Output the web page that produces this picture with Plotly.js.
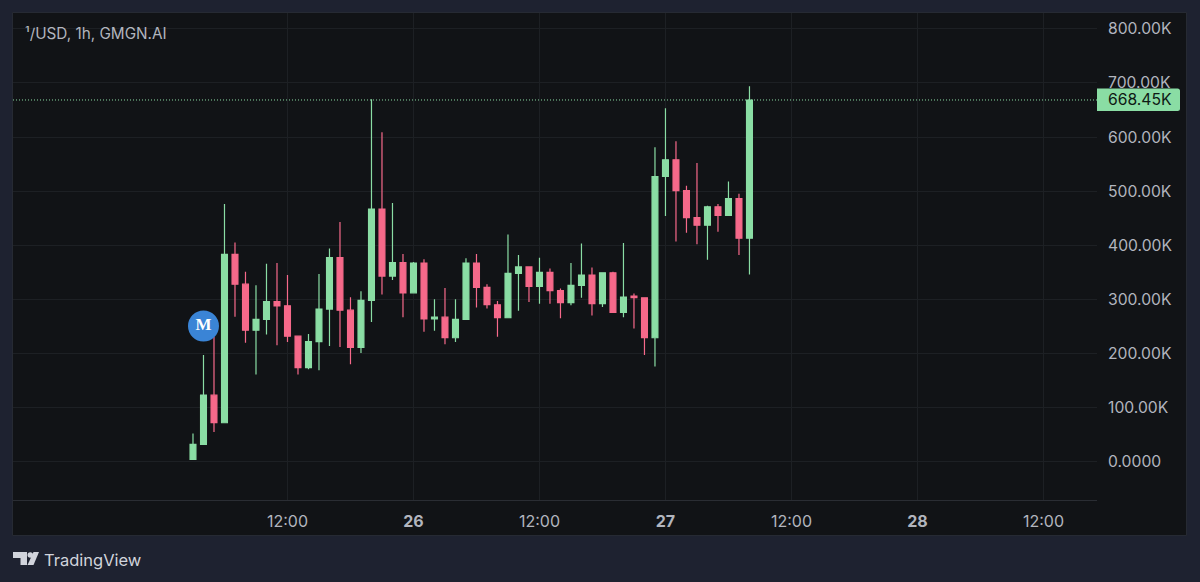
<!DOCTYPE html>
<html>
<head>
<meta charset="utf-8">
<script src="https://cdn.plot.ly/plotly-3.0.1.min.js"></script>
<style>html,body{margin:0;padding:0;background:#1e2230;overflow:hidden}#chart{width:1200px;height:582px}</style>
</head>
<body>
<div id="chart"></div>
<script>
const times = [
"2025-01-25 03:00","2025-01-25 04:00","2025-01-25 05:00","2025-01-25 06:00","2025-01-25 07:00","2025-01-25 08:00","2025-01-25 09:00","2025-01-25 10:00","2025-01-25 11:00","2025-01-25 12:00",
"2025-01-25 13:00","2025-01-25 14:00","2025-01-25 15:00","2025-01-25 16:00","2025-01-25 17:00","2025-01-25 18:00","2025-01-25 19:00","2025-01-25 20:00","2025-01-25 21:00","2025-01-25 22:00","2025-01-25 23:00",
"2025-01-26 00:00","2025-01-26 01:00","2025-01-26 02:00","2025-01-26 03:00","2025-01-26 04:00","2025-01-26 05:00","2025-01-26 06:00","2025-01-26 07:00","2025-01-26 08:00","2025-01-26 09:00","2025-01-26 10:00","2025-01-26 11:00",
"2025-01-26 12:00","2025-01-26 13:00","2025-01-26 14:00","2025-01-26 15:00","2025-01-26 16:00","2025-01-26 17:00","2025-01-26 18:00","2025-01-26 19:00","2025-01-26 20:00","2025-01-26 21:00","2025-01-26 22:00","2025-01-26 23:00",
"2025-01-27 00:00","2025-01-27 01:00","2025-01-27 02:00","2025-01-27 03:00","2025-01-27 04:00","2025-01-27 05:00","2025-01-27 06:00","2025-01-27 07:00","2025-01-27 08:00"];
const opens = [4.4,32,123,72,383,328,243,263,296,288,232,174,222,282,377,280,211,298,467,343,368,312,367,264,267,229,263,367,322,290,266,348,360,324,350,316,294,326,345,292,349,276,306,303,229,527,558,501,451,437,471,455,486,413];
const highs = [52,197,231,476,405,351,326,366,367,345,233,236,347,394,443,304,315,670,609,478,384,369,374,300,321,300,376,384,328,297,420,382,361,377,357,320,367,403,359,349,351,404,311,304,581,653,592,510,552,473,476,518,495,694];
const lows = [4.4,32,55,72,268,220,161,235,215,221,161,171,169,214,212,180,201,258,309,336,267,312,240,242,217,221,263,285,283,231,266,279,295,292,292,265,289,303,270,286,276,267,246,197,176,454,407,423,402,373,425,455,382,346];
const closes = [32,123,72,383,328,243,263,296,288,232,174,222,282,377,280,211,298,467,343,368,312,367,264,267,229,263,367,322,290,266,348,360,324,350,316,294,326,345,292,349,276,304,303,229,527,558,501,451,437,471,455,486,413,668.45];
const xTickVals = ["2025-01-25 12:00","2025-01-26 00:00","2025-01-26 12:00","2025-01-27 00:00","2025-01-27 12:00","2025-01-28 00:00","2025-01-28 12:00"];
const xTickText = ["12:00","<b>26</b>","12:00","<b>27</b>","12:00","<b>28</b>","12:00"];
const yTickVals = [0,100,200,300,400,500,600,700,800];
const yTickText = ["0.0000","100.00K","200.00K","300.00K","400.00K","500.00K","600.00K","700.00K","800.00K"];
const lastPrice = 668.45;
const lastLabel = "668.45K";
const markerTime = ["2025-01-25 04:00"];
const markerPrice = [250.8];
const markerText = ["M"];

const GREEN = "#8adda4", RED = "#f6698a", GRID = "#1d2024", PANE = "#111316", OUTER = "#1e2230", TXT = "#b2b5be";
const W = 1200, H = 582, ml = 13, mr = 103, mt = 13, mb = 82;
const pw = W - ml - mr, ph = H - mt - mb;
const px = v => (v - ml) / pw, py = v => 1 - (v - mt) / ph;

const traces = [{
  type: "candlestick", x: times, open: opens, high: highs, low: lows, close: closes,
  increasing: {line: {color: GREEN, width: 1.2}, fillcolor: GREEN},
  decreasing: {line: {color: RED, width: 1.2}, fillcolor: RED},
  hoverinfo: "none", showlegend: false
},{
  type: "scatter", mode: "markers+text", x: markerTime, y: markerPrice, text: markerText,
  textposition: "middle center",
  textfont: {family: "Liberation Serif, serif", size: 17, color: "#ffffff", weight: 700},
  marker: {size: 31, color: "#3a84d6", line: {width: 0}},
  hoverinfo: "none", showlegend: false, cliponaxis: false
}];

const L = px(1097), R = px(1180), T = py(88.5), B = py(111), rx = px(1180) - px(1177.5), ry = py(88.5) - py(91);

const layout = {
  width: W, height: H,
  margin: {l: ml, r: mr, t: mt, b: mb, pad: 0},
  paper_bgcolor: OUTER, plot_bgcolor: PANE,
  font: {family: "Inter, sans-serif", color: TXT, size: 14},
  showlegend: false, dragmode: false, hovermode: false, boxgap: 0.2,
  xaxis: {
    type: "date", range: ["2025-01-24 09:51:26","2025-01-28 17:06:00"],
    rangeslider: {visible: false},
    tickmode: "array", tickvals: xTickVals, ticktext: xTickText,
    showgrid: true, gridcolor: GRID, gridwidth: 1, zeroline: false,
    showline: true, linecolor: "#2a2d33", linewidth: 1,
    ticks: "", ticklabelstandoff: 7,
    tickfont: {family: "Inter, sans-serif", size: 16, color: TXT}, fixedrange: true
  },
  yaxis: {
    side: "right", range: [-70.8, 829.2],
    tickmode: "array", tickvals: yTickVals, ticktext: yTickText,
    showgrid: true, gridcolor: GRID, gridwidth: 1, zeroline: false, showline: false,
    ticks: "", ticklabelstandoff: 10,
    tickfont: {family: "Inter, sans-serif", size: 15.7, color: TXT}, fixedrange: true
  },
  shapes: [
    {type: "rect", xref: "paper", yref: "paper", x0: px(12.5), x1: px(1186.5), y0: py(535.5), y1: py(12.5),
     fillcolor: PANE, line: {color: "#262a33", width: 1}, layer: "below"},
    {type: "line", xref: "paper", yref: "y", x0: 0, x1: 1, y0: lastPrice, y1: lastPrice,
     line: {color: GREEN, width: 1, dash: "1px,2px"}, layer: "above"},
    {type: "path", xref: "paper", yref: "paper",
     path: `M ${L},${T} L ${R - rx},${T} Q ${R},${T} ${R},${T - ry} L ${R},${B + ry} Q ${R},${B} ${R - rx},${B} L ${L},${B} Z`,
     fillcolor: GREEN, line: {width: 0}, layer: "above"},
    // TradingView logo
    {type: "path", xref: "paper", yref: "paper",
     path: `M ${px(13)},${py(552)} L ${px(27)},${py(552)} L ${px(27)},${py(565)} L ${px(20.5)},${py(565)} L ${px(20.5)},${py(558)} L ${px(13)},${py(558)} Z`,
     fillcolor: "#d1d4dc", line: {width: 0}},
    {type: "circle", xref: "paper", yref: "paper", x0: px(27.5), x1: px(33), y0: py(557.7), y1: py(552.2),
     fillcolor: "#d1d4dc", line: {width: 0}},
    {type: "path", xref: "paper", yref: "paper",
     path: `M ${px(33.5)},${py(552)} L ${px(39)},${py(552)} L ${px(33.5)},${py(565)} L ${px(27.5)},${py(565)} Z`,
     fillcolor: "#d1d4dc", line: {width: 0}}
  ],
  annotations: [
    {xref: "paper", yref: "paper", x: px(23), y: py(33.5), xanchor: "left", yanchor: "middle", showarrow: false,
     text: "¹/USD, 1h, GMGN.AI", font: {family: "Inter, sans-serif", size: 15.3, color: TXT}},
    {xref: "paper", yref: "y", x: px(1107), y: lastPrice, xanchor: "left", yanchor: "middle", showarrow: false,
     text: lastLabel, borderpad: 0,
     font: {family: "Inter, sans-serif", size: 15.7, color: "#0f1a14"}},
    {xref: "paper", yref: "paper", x: px(42), y: py(560), xanchor: "left", yanchor: "middle", showarrow: false,
     text: "TradingView", font: {family: "Inter, sans-serif", size: 16.5, color: "#d1d4dc"}}
  ]
};
Plotly.newPlot("chart", traces, layout, {displayModeBar: false, staticPlot: true});
</script>
</body>
</html>
